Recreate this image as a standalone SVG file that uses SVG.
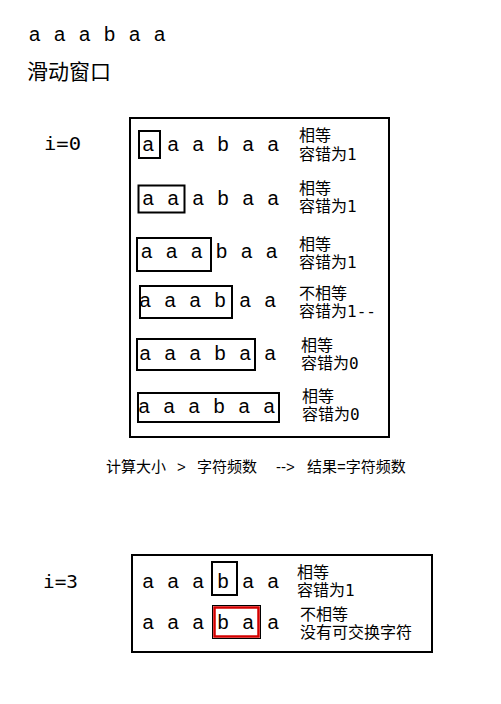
<svg xmlns="http://www.w3.org/2000/svg" width="501" height="704" viewBox="0 0 501 704">
<style>
.bg{fill:#ffffff}
.box{fill:none;stroke:#000;stroke-width:2}
.seq{font-family:"Liberation Sans","Noto Sans CJK SC",sans-serif;font-size:20px;fill:#000;word-spacing:8.3px}
.lbl{font-family:"DejaVu Sans Mono","Noto Sans CJK SC",monospace;font-size:16px;fill:#000}
.idx{font-family:"DejaVu Sans Mono",monospace;font-size:18px;fill:#000}
.cap{font-family:"Liberation Sans","Noto Sans CJK SC",sans-serif;font-size:15px;fill:#000}
.title{font-family:"Noto Sans CJK SC",sans-serif;font-size:21px;fill:#000}
</style>
<rect class="bg" x="0" y="0" width="501" height="704"/>
<g id="header">
<text class="seq" x="29" y="41">a a a b a a</text>
<text class="title" x="27" y="79">滑动窗口</text>
</g>
<g id="i0">
<text class="idx" x="44" y="150" textLength="37" lengthAdjust="spacingAndGlyphs">i=0</text>
<rect class="box" x="130" y="118" width="259" height="319"/>
<g id="row1">
<rect class="box" x="139" y="131" width="21" height="27"/>
<text class="seq" x="142.5" y="151">a a a b a a</text>
<text class="lbl" x="299" y="141">相等</text>
<text class="lbl" x="299" y="160">容错为1</text>
</g>
<g id="row2">
<rect class="box" x="138.5" y="185.5" width="46" height="27"/>
<text class="seq" x="142.5" y="205">a a a b a a</text>
<text class="lbl" x="299" y="194">相等</text>
<text class="lbl" x="299" y="212">容错为1</text>
</g>
<g id="row3">
<rect class="box" x="137" y="238" width="74" height="33"/>
<text class="seq" x="141" y="258">a a a b a a</text>
<text class="lbl" x="299" y="250">相等</text>
<text class="lbl" x="299" y="268">容错为1</text>
</g>
<g id="row4">
<rect class="box" x="140" y="286" width="92" height="32"/>
<text class="seq" x="139.5" y="307">a a a b a a</text>
<text class="lbl" x="299" y="299">不相等</text>
<text class="lbl" x="299" y="317">容错为1--</text>
</g>
<g id="row5">
<rect class="box" x="137" y="339" width="118" height="31"/>
<text class="seq" x="139.5" y="360">a a a b a a</text>
<text class="lbl" x="301" y="351">相等</text>
<text class="lbl" x="301" y="369">容错为0</text>
</g>
<g id="row6">
<rect class="box" x="138" y="393" width="141" height="29"/>
<text class="seq" x="138.5" y="413">a a a b a a</text>
<text class="lbl" x="302" y="402">相等</text>
<text class="lbl" x="302" y="420">容错为0</text>
</g>
</g>
<g id="caption">
<text class="cap" y="472"><tspan x="106">计算大小</tspan><tspan x="177">&gt;</tspan><tspan x="197">字符频数</tspan><tspan x="276">--&gt;</tspan><tspan x="307">结果=字符频数</tspan></text>
</g>
<g id="i3">
<text class="idx" x="43" y="588" textLength="35" lengthAdjust="spacingAndGlyphs">i=3</text>
<rect class="box" x="132" y="555" width="300" height="97"/>
<g id="row7">
<rect class="box" x="212" y="562" width="25" height="33"/>
<text class="seq" x="142.5" y="588">a a a b a a</text>
<text class="lbl" x="297" y="578">相等</text>
<text class="lbl" x="297" y="596">容错为1</text>
</g>
<g id="row8">
<rect x="212.5" y="605.5" width="48" height="33" fill="none" stroke="#000" stroke-width="1"/>
<rect x="214.5" y="607.5" width="44" height="29" fill="none" stroke="#d40000" stroke-width="2.5"/>
<text class="seq" x="142.5" y="629">a a a b a a</text>
<text class="lbl" x="300" y="620">不相等</text>
<text class="lbl" x="300" y="638">没有可交换字符</text>
</g>
</g>
</svg>
